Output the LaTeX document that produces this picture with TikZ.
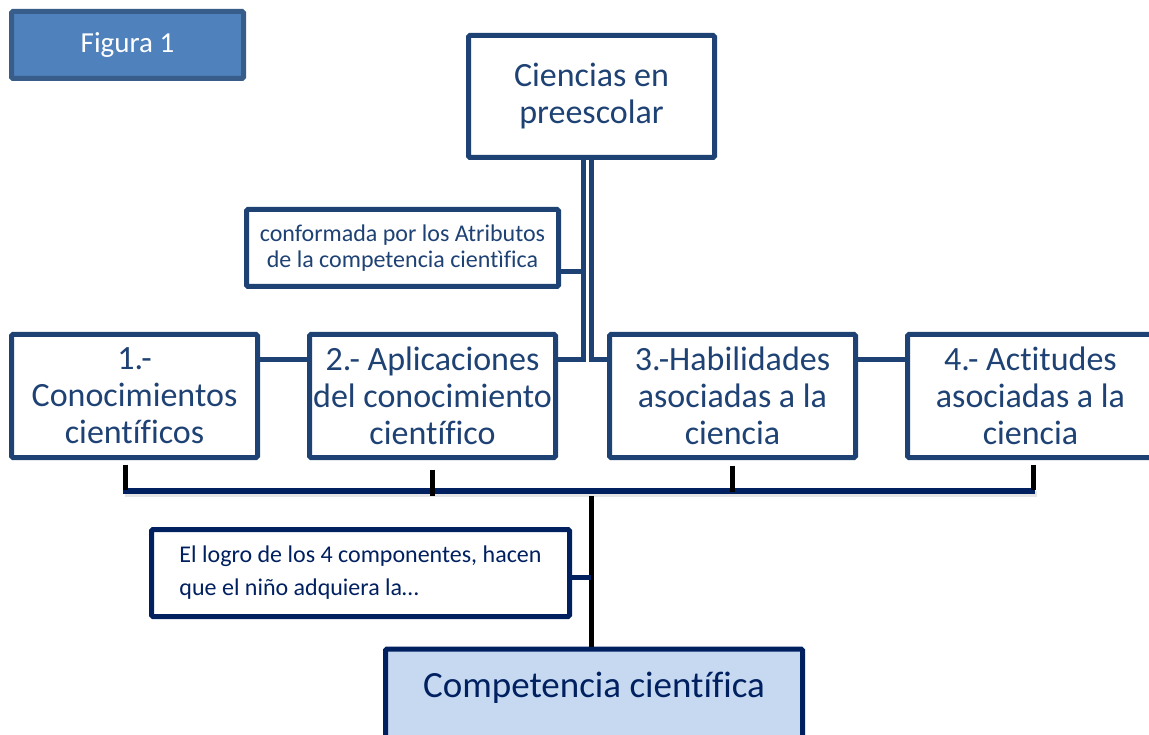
\documentclass[tikz,border=0pt]{standalone}
\usepackage{fontspec}
\setmainfont{Carlito}[Ligatures=NoCommon]
\usetikzlibrary{calc}

\definecolor{boxblue}{RGB}{31,66,116}
\definecolor{navy}{RGB}{0,32,96}
\definecolor{figfill}{RGB}{79,129,189}
\definecolor{figline}{RGB}{56,93,138}
\definecolor{compfill}{RGB}{198,217,241}

\tikzset{
  box/.style={draw=boxblue, line width=5pt, rounded corners=1.5pt, fill=white,
    text=boxblue, align=center, inner sep=0pt, minimum width=246pt,
    minimum height=123pt, font=\fontsize{34}{37}\selectfont},
  link/.style={draw=boxblue, line width=5pt},
  tick/.style={draw=black, line width=5pt},
  bar/.style={draw=navy, line width=6pt},
}

\begin{document}
\begin{tikzpicture}[x=1pt, y=-1pt]
\useasboundingbox (0,0) rectangle (1149,735);
\clip (0,0) rectangle (1149,735);

\node[box, draw=figline, fill=figfill, text=white, minimum width=232pt,
  minimum height=67pt, font=\fontsize{29}{33}\selectfont] (fig) at (127.5,45) {Figura 1};
\node[box, minimum height=122pt] (cien) at (591.5,96.5) {Ciencias en\\preescolar};
\node[box, minimum width=312pt, minimum height=77pt,
  font=\fontsize{24}{26}\selectfont] (conf) at (402.5,248) {conformada por los Atributos\\de la competencia cientìfica};

\node[box] (c1) at (134.5,396) {1.-\\Conocimientos\\científicos};
\node[box] (c2) at (432.5,396) {2.- Aplicaciones\\del conocimiento\\científico};
\node[box] (c3) at (732.5,396) {3.-Habilidades\\asociadas a la\\ciencia};
\node[box] (c4) at (1030.5,396) {4.- Actitudes\\asociadas a la\\ciencia};

\node[box, draw=navy, text=navy, align=left, minimum width=418pt,
  minimum height=87pt, font=\fontsize{24}{33}\selectfont] (logro) at (360.5,573) {El logro de los 4 componentes, hacen\\que el niño adquiera la…};
\node[box, draw=navy, fill=compfill, text=navy, anchor=north, minimum width=417pt,
  inner ysep=24pt, text height=24pt, text depth=90pt,
  font=\fontsize{37}{40}\selectfont] (comp) at (594,646.5) {Competencia científica};

% trunk from the top box
\coordinate (lvl) at (0,359.5);
\coordinate (tl) at ($(cien.south)+(-8.5,0)$);
\coordinate (tr) at ($(cien.south)+(-0.5,0)$);
\draw[link] (tl) |- (c2.east |- lvl);
\draw[link] (tr) |- (c3.west |- lvl);
\coordinate (cj) at ($(conf.east)+(0,24)$);
\draw[link] (cj) -- (cj -| tl);
\draw[link] (c1.east |- lvl) -- (c2.west |- lvl);
\draw[link] (c3.east |- lvl) -- (c4.west |- lvl);

\coordinate (bl) at ($(c1.south)+(-11.5,30.5)$);
\coordinate (br) at ($(c4.south)+(4.5,30.5)$);
\draw[line width=6pt, black!10] ($(bl)+(2,3)$) -- ($(br)+(2,3)$);
\draw[bar] (bl) -- (br);
\foreach \n/\dx/\ya/\yb in {c1/-9/4.5/29.5, c2/0/9.5/35.5, c3/0/5.5/31.5, c4/3/4.5/29.5}
  \draw[tick] ($(\n.south)+(\dx,\ya)$) -- ($(\n.south)+(\dx,\yb)$);

\coordinate (st) at ($(comp.north)+(-3,-150.5)$);
\draw[tick] (st) -- (st |- comp.north);
\coordinate (lj) at ($(logro.east)+(0,4)$);
\draw[link, draw=navy] (lj) -- (lj -| st);

\end{tikzpicture}
\end{document}
